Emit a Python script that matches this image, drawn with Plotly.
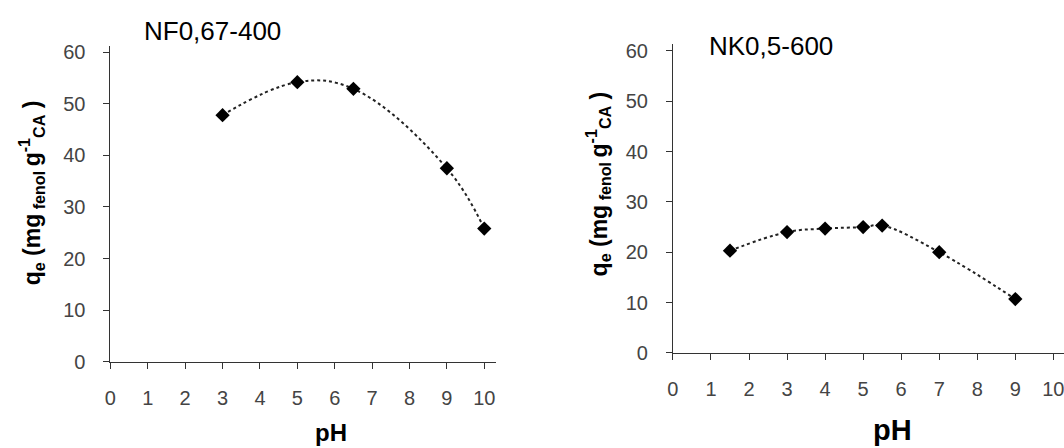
import plotly.graph_objects as go

# Data
ph_nf = [3, 5, 6.5, 9, 10]
qe_nf = [47.8, 54.2, 52.9, 37.5, 25.8]
ph_nk = [1.5, 3, 4, 5, 5.5, 7, 9]
qe_nk = [20.3, 24.0, 24.7, 25.0, 25.3, 20.0, 10.7]
titles = ["NF0,67-400", "NK0,5-600"]
x_ticks = list(range(0, 11))
y_ticks = list(range(0, 61, 10))

FONT = "Liberation Sans, Arial, sans-serif"
AX = "#333333"

fig = go.Figure()
for i, (xs, ys) in enumerate([(ph_nf, qe_nf), (ph_nk, qe_nk)]):
    sfx = "" if i == 0 else "2"
    fig.add_trace(go.Scatter(
        x=xs, y=ys, mode="lines+markers",
        line=dict(color="#222222", width=2, dash="dot", shape="spline", smoothing=1.1),
        marker=dict(symbol="diamond", size=11, color="black"),
        xaxis="x" + sfx, yaxis="y" + sfx, showlegend=False,
    ))

def axis_common(standoff):
    return dict(
        showline=True, linecolor=AX, linewidth=1, ticks="outside", ticklen=6,
        tickcolor=AX, tickwidth=1, showgrid=False, zeroline=False,
        ticklabelstandoff=standoff, ticklabeloverflow="allow",
        tickfont=dict(family=FONT, size=20, color="#444444"),
    )

fig.update_layout(
    width=1064, height=448, margin=dict(l=0, r=0, t=0, b=0),
    paper_bgcolor="white", plot_bgcolor="white",
    font=dict(family=FONT, size=20, color="#444444"),
    xaxis=dict(domain=[105/1064, 493/1064], range=[0, 10.32], tickvals=x_ticks,
               anchor="y", **axis_common(12)),
    yaxis=dict(domain=[78/448, 405/448], range=[0, 61.3], tickvals=y_ticks,
               anchor="x", **axis_common(14)),
    xaxis2=dict(domain=[670.7/1064, 1.0], range=[0, 10.28], tickvals=x_ticks,
                anchor="y2", **axis_common(12)),
    yaxis2=dict(domain=[87/448, 406.3/448], range=[0, 61.3], tickvals=y_ticks,
                anchor="x2", **axis_common(14)),
)

ytitle = "<b>q<sub>e</sub> (mg<sub> fenol </sub>g<sup>-1</sup><sub>CA</sub> )</b>"
ann = [
    dict(text=titles[0], x=208, y=28, size=26, angle=0),
    dict(text=titles[1], x=769, y=43, size=26, angle=0),
    dict(text="<b>pH</b>", x=327, y=443, size=24, angle=0),
    dict(text="<b>pH</b>", x=892, y=441, size=29, angle=0),
    dict(text=ytitle, x=26, y=195, size=23, angle=-90),
    dict(text=ytitle, x=595, y=186, size=23, angle=-90),
]
for a in ann:
    fig.add_annotation(
        text=a["text"], x=a["x"] / 1064, y=1 - a["y"] / 448,
        xref="paper", yref="paper", xanchor="center", yanchor="middle",
        showarrow=False, textangle=a["angle"],
        font=dict(family=FONT, size=a["size"], color="black"),
    )

fig.write_html("out.html")
